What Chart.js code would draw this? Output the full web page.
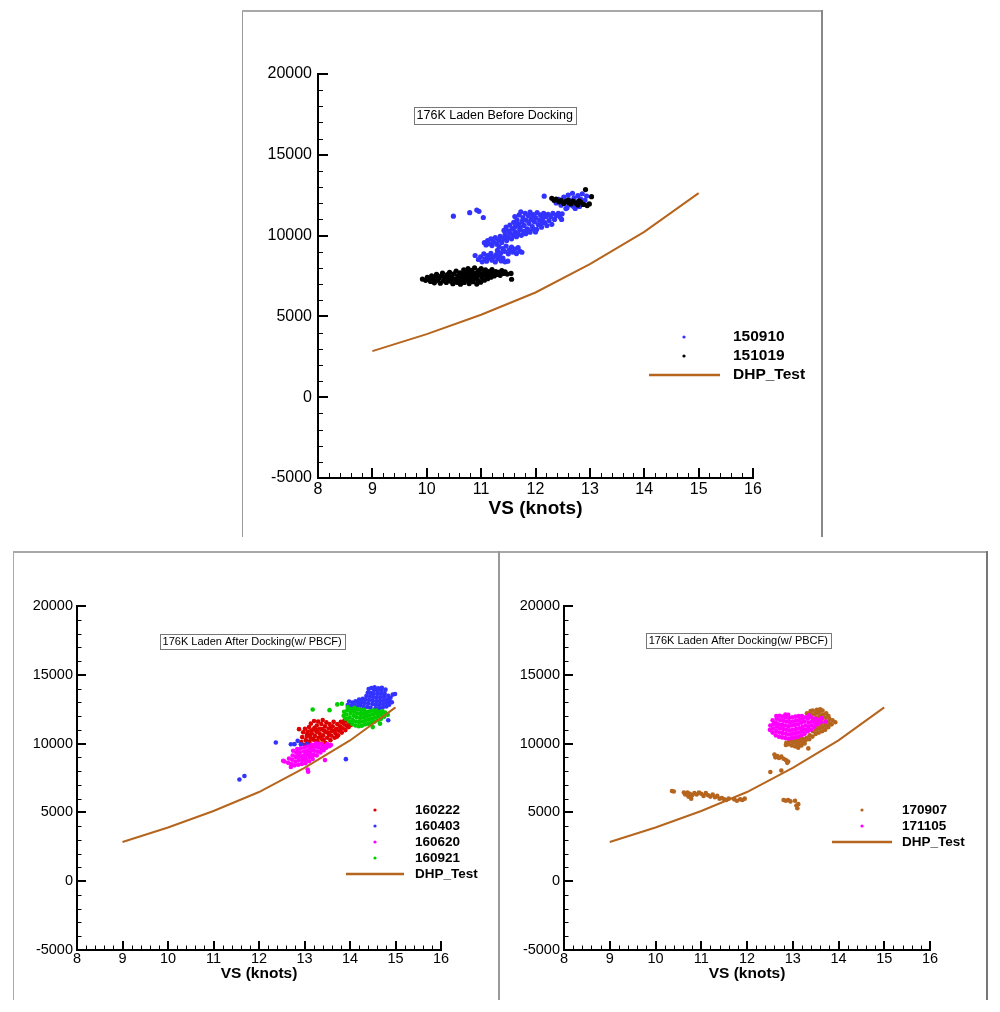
<!DOCTYPE html>
<html>
<head>
<meta charset="utf-8">
<script src="https://cdn.jsdelivr.net/npm/chart.js@4.4.0/dist/chart.umd.min.js"></script>
<style>
  body { margin: 0; background: #fff; width: 1000px; height: 1012px; position: relative; overflow: hidden; }
  .rule { position: absolute; }
  canvas { position: absolute; }
</style>
</head>
<body>
<!-- panel frames -->
<div class="rule" style="left:242px;top:10px;width:1px;height:527px;background:#999"></div>
<div class="rule" style="left:242px;top:10px;width:580px;height:2px;background:#a8a8a8"></div>
<div class="rule" style="left:821px;top:10px;width:2px;height:527px;background:#888"></div>
<div class="rule" style="left:13px;top:551px;width:975px;height:2px;background:#a8a8a8"></div>
<div class="rule" style="left:13px;top:551px;width:1px;height:449px;background:#aaa"></div>
<div class="rule" style="left:498px;top:551px;width:2px;height:449px;background:#999"></div>
<div class="rule" style="left:986px;top:551px;width:2px;height:449px;background:#777"></div>

<canvas id="before" width="578" height="524" style="left:243px;top:12px"></canvas>
<canvas id="after1" width="484" height="447" style="left:14px;top:553px"></canvas>
<canvas id="after2" width="486" height="447" style="left:500px;top:553px"></canvas>

<script>
var FONT = "Arial, 'Liberation Sans', sans-serif";

var xRange = [8, 16];
var yRange = [-5000, 20000];

// DHP sea-trial curve
var dhpSpeed = [9, 10, 11, 12, 13, 14, 15];
var dhpPower = [2850, 3900, 5100, 6480, 8230, 10230, 12630];

// measured points, [speed (knots), power]
var s150910 = [
  [10.49,11200],[10.79,11420],[10.92,11580],[10.96,11500],[11.04,11120],[10.89,8770],[12.16,12440],[12.49,11350],[12.48,11000],
  [10.95,8520],[10.99,8690],[11.02,8380],[11.05,8870],[11.07,8560],[11.1,8420],[11.12,8760],[11.15,8610],[11.18,8900],
  [11.2,8480],[11.23,8690],[11.26,8370],[11.28,8830],[11.31,8560],[11.34,8710],[11.37,8430],[11.4,8600],[11.44,8380],[11.49,8420],
  [11.3,9080],[11.33,9320],[11.36,8930],[11.4,9190],[11.43,9030],[11.46,9350],[11.5,8870],[11.52,9120],[11.56,9290],
  [11.58,8980],[11.62,9170],[11.65,8890],[11.68,9260],[11.71,9040],[11.75,8970],
  [11.06,9560],[11.09,9420],[11.12,9690],[11.15,9500],[11.18,9800],[11.2,9380],[11.23,9620],[11.26,9880],[11.29,9470],
  [11.32,9720],[11.35,9950],[11.38,9580],[11.41,9830],[11.44,10060],[11.47,9700],[11.5,9920],[11.53,10150],[11.56,9800],
  [11.59,10030],[11.62,10250],[11.65,9930],[11.68,10140],[11.71,10370],[11.74,10020],[11.78,10250],[11.82,10120],
  [11.86,10330],[11.9,10210],[11.95,10400],
  [11.42,10320],[11.46,10530],[11.5,10280],[11.53,10650],[11.57,10440],[11.6,10820],[11.63,10560],[11.66,10980],
  [11.68,10710],[11.7,11280],[11.72,10480],[11.73,11470],[11.75,10880],[11.77,11120],[11.79,10630],[11.81,11380],
  [11.83,10950],[11.85,10420],[11.87,11230],[11.88,10760],[11.9,11450],[11.92,11010],[11.94,10560],[11.96,11300],
  [11.98,10850],[12.0,11120],[12.02,10380],[12.03,11420],[12.05,10680],[12.07,10970],[12.09,11280],[12.11,10520],
  [12.13,11060],[12.15,11380],[12.17,10800],[12.19,11170],[12.21,10620],[12.23,11320],[12.25,10930],[12.28,11180],
  [12.3,10700],[12.32,11380],[12.35,11000],[12.38,11250],[12.42,11380],[12.45,11150],[11.62,11180],[11.8,10280],
  [12.0,10230],[12.12,10800],[11.7,10640],[11.95,11080],
  [12.38,12020],[12.43,12250],[12.47,11880],[12.52,12380],[12.55,12080],[12.58,11730],[12.6,12500],[12.63,12200],
  [12.66,11900],[12.68,12620],[12.71,12340],[12.73,11680],[12.76,12050],[12.78,12470],[12.81,11800],[12.83,12260],
  [12.86,12590],[12.88,11950],[12.91,12180],[12.94,12450],[12.56,11670],[12.7,11800],[12.85,12000]
];
var s151019 = [
  [9.92,7310],[9.98,7230],[10.01,7420],[10.04,7330],[10.07,7160],[10.09,7510],[10.11,7290],[10.14,7080],[10.16,7420],
  [10.18,7600],[10.2,7230],[10.23,7360],[10.25,7050],[10.27,7520],[10.29,7680],[10.31,7200],[10.33,7390],[10.36,7100],
  [10.38,7580],[10.4,7300],[10.42,7730],[10.44,7180],[10.46,7460],[10.48,7020],[10.5,7640],[10.52,7290],[10.54,7810],
  [10.55,7120],[10.57,7500],[10.59,7370],[10.61,7700],[10.62,6990],[10.64,7230],[10.66,7580],[10.68,7880],[10.69,7100],
  [10.71,7410],[10.73,7740],[10.75,7260],[10.76,7960],[10.78,7030],[10.8,7590],[10.82,7350],[10.83,7850],[10.85,7150],
  [10.87,7480],[10.88,8010],[10.9,7680],[10.92,7000],[10.93,7290],[10.95,7830],[10.97,7560],[10.99,7120],[11.0,7960],
  [11.02,7390],[11.04,7700],[11.06,7240],[11.08,7880],[11.1,7520],[11.12,7330],[11.14,7780],[11.16,7600],[11.18,7430],
  [11.2,7900],[11.22,7680],[11.24,7500],[11.27,7780],[11.29,7600],[11.32,7720],[11.35,7540],[11.38,7830],[11.41,7660],
  [11.44,7750],[11.48,7620],[11.55,7660],[11.56,7300],
  [10.12,7380],[10.35,7450],[10.47,7350],[10.58,7100],[10.65,7400],[10.7,7700],[10.74,7500],[10.79,7180],[10.84,7650],
  [10.86,7300],[10.91,7430],[10.96,7650],[11.01,7550],[11.07,7600],[11.13,7650],[10.81,7800],[10.6,7550],[10.4,7470],
  [12.3,12310],[12.34,12180],[12.38,12260],[12.43,12090],[12.47,12170],[12.52,11990],[12.56,12120],[12.61,12040],
  [12.65,11960],[12.69,12140],[12.74,12010],[12.78,11890],[12.83,12080],[12.88,11930],[12.92,12850],[12.95,11860],
  [12.99,11960],[13.03,12410],[12.6,12200],[12.8,12150]
];

var s160222 = [
  [12.88,11050],[12.93,10120],[12.95,10470],[12.97,10820],[13.0,9920],[13.01,11080],[13.03,10250],[13.05,10560],
  [13.07,10880],[13.08,9870],[13.1,11200],[13.11,10140],[13.13,10430],[13.14,11450],[13.16,10730],[13.17,9820],
  [13.19,11020],[13.2,10280],[13.21,11640],[13.23,10560],[13.24,9950],[13.26,10870],[13.27,11320],[13.29,10150],
  [13.3,11600],[13.31,10420],[13.33,10750],[13.34,11080],[13.36,9980],[13.37,11420],[13.39,10300],[13.4,11720],
  [13.41,10610],[13.43,10940],[13.45,11250],[13.46,10060],[13.48,11540],[13.5,10430],[13.52,10780],[13.53,11100],
  [13.55,11420],[13.57,10250],[13.59,10580],[13.6,10920],[13.62,11260],[13.64,11580],[13.66,10420],[13.68,10760],
  [13.7,11080],[13.72,11420],[13.74,10600],[13.76,10930],[13.78,11260],[13.8,11580],[13.82,10800],[13.84,11120],
  [13.86,11440],[13.88,11700],[13.9,10980],[13.92,11300],[13.94,11600],[13.97,11200],[13.99,11480],[14.02,11350],
  [13.12,10620],[13.18,10350],[13.25,10200],[13.28,11000],[13.35,10500],[13.42,10300],[13.47,10850],[13.54,10650],
  [13.58,11150],[13.65,10950],[13.71,10500],[13.79,11050],[13.22,11150],[13.38,11050],[13.15,10930],[13.06,10720]
];
var s160403 = [
  [11.57,7390],[11.68,7650],[12.37,10080],[12.7,9950],[12.78,9960],[12.85,10200],[12.92,9950],[13.05,9960],
  [13.91,8870],[14.84,11700],[14.99,13600],
  [13.95,12810],[13.98,13060],[14.02,12720],[14.05,12980],[14.08,12530],[14.1,12790],[14.12,13070],[14.15,12680],
  [14.18,12950],[14.2,13210],[14.23,12760],[14.26,13010],[14.28,13260],[14.3,12690],[14.32,12950],[14.34,13200],
  [14.36,13460],[14.38,12660],[14.39,13700],[14.4,12920],[14.41,13960],[14.42,13170],[14.44,13420],[14.45,12610],
  [14.46,13680],[14.47,14040],[14.49,12870],[14.5,13120],[14.51,13380],[14.52,13640],[14.53,13890],[14.54,14100],
  [14.56,12560],[14.57,12820],[14.58,13080],[14.59,13340],[14.6,13600],[14.61,13850],[14.62,14020],[14.64,12580],
  [14.65,12840],[14.66,13100],[14.67,13360],[14.68,13620],[14.69,13880],[14.7,14060],[14.72,12620],[14.73,12880],
  [14.74,13140],[14.75,13400],[14.76,13650],[14.78,13920],[14.8,12700],[14.81,12960],[14.82,13220],[14.84,13480],
  [14.86,12820],[14.87,13080],[14.89,13330],[14.92,13000],[14.94,13560]
];
var s160620 = [
  [12.53,8750],[12.56,8700],[12.64,8600],[12.66,8920],[12.7,8300],[12.71,8520],[12.73,8830],[12.74,9130],[12.75,9480],
  [12.78,8420],[12.8,8700],[12.81,9020],[12.82,9330],[12.84,9600],[12.86,8460],[12.87,8780],[12.89,9070],[12.9,9370],
  [12.92,9660],[12.94,8520],[12.95,8810],[12.97,9110],[12.99,9420],[13.0,9720],[13.02,8580],[13.03,8870],[13.05,9180],
  [13.06,9480],[13.08,9780],[13.08,7950],[13.07,8120],[13.1,8720],[13.11,9020],[13.13,9330],[13.14,9630],[13.16,9920],
  [13.18,8880],[13.2,9180],[13.22,9480],[13.23,9780],[13.25,10010],[13.27,9130],[13.29,9420],[13.3,9720],[13.32,9980],
  [13.35,9360],[13.37,9650],[13.39,9940],[13.42,9520],[13.44,9810],[13.45,8800],[13.48,9700],[13.5,9960],[13.55,9820],
  [13.58,9900],[12.88,9200],[13.04,9300],[13.17,9560],[12.96,8950],[13.12,9130]
];
var s160921 = [
  [13.18,12480],[13.55,12430],[13.72,12850],[13.82,12900],[14.66,11450],[14.5,11200],
  [13.86,12020],[13.87,12310],[13.91,11810],[13.92,12120],[13.94,12420],[13.95,12660],[13.98,11620],[13.99,11920],
  [14.01,12220],[14.02,12510],[14.05,11420],[14.06,11720],[14.08,12020],[14.09,12310],[14.1,12600],[14.12,11310],
  [14.13,11610],[14.15,11910],[14.16,12210],[14.17,12500],[14.19,11260],[14.2,11560],[14.22,11860],[14.23,12160],
  [14.24,12450],[14.26,11300],[14.27,11610],[14.29,11910],[14.3,12200],[14.31,12460],[14.33,11400],[14.34,11700],
  [14.36,12000],[14.37,12300],[14.4,11450],[14.41,11760],[14.43,12060],[14.44,12350],[14.47,11510],[14.48,11800],
  [14.5,12110],[14.51,12400],[14.54,11600],[14.55,11900],[14.57,12200],[14.58,12410],[14.61,11700],[14.62,12010],
  [14.64,12300],[14.68,11800],[14.69,12100],[14.71,12350],[14.75,11950],[14.77,12250],[14.83,12100]
];

var s170907 = [
  [10.36,6560],[10.4,6520],[10.62,6450],[10.65,6300],[10.7,6450],[10.72,6150],[10.75,6350],[10.78,6000],[10.8,6250],
  [10.85,6400],[10.9,6300],[10.95,6450],[11.0,6350],[11.05,6200],[11.1,6400],[11.15,6250],[11.2,6150],[11.25,6300],
  [11.3,6100],[11.35,6200],[11.4,6000],[11.45,6050],[11.5,5950],[11.55,5900],[11.6,6000],[11.72,5950],[11.78,5850],
  [11.85,5950],[11.9,5900],[11.95,6000],
  [12.51,7940],[12.6,9200],[12.62,9000],[12.66,9100],[12.7,8950],[12.75,9050],[12.75,8050],[12.8,8900],[12.85,8800],
  [12.88,8600],[12.9,8700],[12.8,5900],[12.85,5850],[12.9,5900],[12.95,5800],[13.05,5850],[13.08,5500],[13.1,5300],[13.12,5600],
  [12.85,9900],[12.86,10060],[12.91,9950],[12.93,10160],[12.98,9860],[13.0,10110],[13.01,10310],[13.05,9800],
  [13.07,10060],[13.08,10290],[13.12,9700],[13.13,9960],[13.15,10210],[13.14,10410],[13.19,9860],[13.21,10110],
  [13.22,10350],[13.26,10010],[13.28,10250],[13.3,10400],[13.31,12210],[13.34,9650],[13.36,10320],[13.37,10610],
  [13.38,12120],[13.39,12360],[13.43,10510],[13.44,10900],[13.45,11800],[13.46,12110],[13.44,12410],[13.5,10700],
  [13.51,11010],[13.52,11300],[13.5,11610],[13.52,11900],[13.51,12210],[13.53,12450],[13.57,10800],[13.58,11110],
  [13.59,11400],[13.57,11700],[13.59,12010],[13.58,12300],[13.6,12500],[13.64,10900],[13.65,11200],[13.66,11510],
  [13.64,11800],[13.66,12100],[13.65,12400],[13.71,11000],[13.72,11300],[13.73,11610],[13.71,11900],[13.73,12200],
  [13.78,11200],[13.79,11500],[13.8,11800],[13.78,12010],[13.85,11400],[13.87,11700],[13.93,11550]
];
var s171105 = [
  [12.5,11000],[12.51,11310],[12.56,10800],[12.57,11110],[12.58,11420],[12.56,11700],[12.63,10600],[12.64,10910],
  [12.65,11220],[12.63,11510],[12.65,11810],[12.64,12010],[12.7,10500],[12.71,10810],[12.72,11110],[12.7,11400],
  [12.72,11710],[12.71,12020],[12.77,10450],[12.78,10760],[12.79,11060],[12.77,11360],[12.79,11660],[12.78,11960],
  [12.84,10400],[12.85,10710],[12.86,11010],[12.84,11310],[12.86,11610],[12.85,11910],[12.84,12110],[12.91,10350],
  [12.92,10660],[12.93,10960],[12.91,11260],[12.93,11560],[12.92,11860],[12.9,12100],[12.98,10410],[12.99,10710],
  [13.0,11010],[12.98,11310],[13.0,11610],[12.99,11910],[13.05,10450],[13.06,10760],[13.07,11060],[13.05,11360],
  [13.07,11660],[13.06,11960],[13.12,10510],[13.13,10810],[13.14,11110],[13.12,11410],[13.14,11710],[13.13,12010],
  [13.19,10610],[13.2,10910],[13.21,11210],[13.19,11510],[13.21,11810],[13.2,12010],[13.26,10710],[13.27,11010],
  [13.28,11310],[13.26,11610],[13.28,11910],[13.33,10910],[13.34,11210],[13.35,11510],[13.33,11810],[13.35,12060],
  [13.4,11010],[13.41,11310],[13.42,11610],[13.4,11910],[13.47,11210],[13.48,11510],[13.49,11810],[13.54,11410],
  [13.56,11710],[13.61,11550],[13.63,11850],[13.72,11600]
];

var BLUE = "#3333ff", BLACK = "#000000", RED = "#dd0000", MAGENTA = "#ff00ff", GREEN = "#00cc00", BROWN = "#b5651d";

function scatterSet(label, pts, color, r) {
  return {
    label: label,
    data: pts.map(function (p) { return { x: p[0], y: p[1] }; }),
    backgroundColor: color, borderWidth: 0, pointRadius: r, pointHoverRadius: r
  };
}

function dhpSet() {
  return {
    label: "DHP_Test",
    data: dhpSpeed.map(function (x, i) { return { x: x, y: dhpPower[i] }; }),
    showLine: true, borderColor: BROWN, borderWidth: 2, pointRadius: 0, tension: 0
  };
}

// tecplot-like decorations: inward ticks, boxed caption, legend inside the frame
var panelDeco = {
  id: "panelDeco",
  afterDraw: function (chart, args, o) {
    var ctx = chart.ctx, xs = chart.scales.x, ys = chart.scales.y, a = chart.chartArea;
    ctx.save();

    var xt = xs.ticks.map(function (t) { return t.value; });
    var yt = ys.ticks.map(function (t) { return t.value; });
    ctx.strokeStyle = "#000";
    ctx.lineWidth = 1;
    ctx.beginPath();
    for (var i = 0; i < xt.length - 1; i++) {
      for (var k = 1; k < 5; k++) {
        var mx = Math.round(xs.getPixelForValue(xt[i] + (xt[i + 1] - xt[i]) * k / 5)) + 0.5;
        ctx.moveTo(mx, a.bottom); ctx.lineTo(mx, a.bottom - o.minor);
      }
    }
    for (var j = 0; j < yt.length - 1; j++) {
      for (var m = 1; m < 5; m++) {
        var my = Math.round(ys.getPixelForValue(yt[j] + (yt[j + 1] - yt[j]) * m / 5)) + 0.5;
        ctx.moveTo(a.left, my); ctx.lineTo(a.left + o.minor, my);
      }
    }
    ctx.stroke();
    ctx.lineWidth = 2;
    ctx.beginPath();
    xt.forEach(function (v) {
      var px = Math.round(xs.getPixelForValue(v));
      ctx.moveTo(px, a.bottom); ctx.lineTo(px, a.bottom - o.major);
    });
    yt.forEach(function (v) {
      var py = Math.round(ys.getPixelForValue(v));
      ctx.moveTo(a.left, py); ctx.lineTo(a.left + o.major, py);
    });
    ctx.stroke();

    // caption box
    ctx.font = o.boxSize + "px " + FONT;
    ctx.fillStyle = "#000";
    ctx.textAlign = "center";
    ctx.textBaseline = "middle";
    var bx = xs.getPixelForValue(o.boxAt[0]), by = ys.getPixelForValue(o.boxAt[1]);
    var bw = Math.round(ctx.measureText(o.boxText).width + 6), bh = Math.round(o.boxSize + 4);
    ctx.fillText(o.boxText, bx, by + 0.5);
    ctx.strokeStyle = "#777";
    ctx.lineWidth = 1;
    ctx.strokeRect(Math.round(bx - bw / 2) + 0.5, Math.round(by - bh / 2) + 0.5, bw, bh);

    // legend
    var L = o.legend;
    ctx.font = "bold " + L.size + "px " + FONT;
    ctx.textAlign = "left";
    chart.data.datasets.forEach(function (d, i) {
      var y = L.y0 + i * L.gap;
      if (d.showLine) {
        ctx.strokeStyle = d.borderColor;
        ctx.lineWidth = 2.5;
        ctx.beginPath();
        ctx.moveTo(L.lineX[0], y); ctx.lineTo(L.lineX[1], y);
        ctx.stroke();
      } else {
        ctx.fillStyle = d.backgroundColor;
        ctx.beginPath();
        ctx.arc(L.markerX, y, 1.6, 0, Math.PI * 2);
        ctx.fill();
      }
      ctx.fillStyle = "#000";
      ctx.fillText(d.label, L.textX, y);
    });
    ctx.restore();
  }
};

function makePanel(id, datasets, o) {
  // later series sit on top, the DHP line on top of everything
  datasets.forEach(function (d, i) { d.order = datasets.length - i; });
  return new Chart(document.getElementById(id), {
    type: "scatter",
    data: { datasets: datasets },
    options: {
      responsive: false,
      animation: false,
      events: [],
      layout: { padding: { top: o.padTop, right: o.padRight, left: 0, bottom: 0 } },
      plugins: { legend: { display: false }, tooltip: { enabled: false }, panelDeco: o.deco },
      scales: {
        x: {
          type: "linear", min: xRange[0], max: xRange[1],
          grid: { display: false, drawTicks: false },
          border: { display: true, color: "#000", width: 2 },
          ticks: { stepSize: 1, color: "#000", padding: o.xPad, maxRotation: 0, autoSkip: false,
                   font: { family: FONT, size: o.tickSize } },
          title: { display: true, text: "VS (knots)", color: "#000",
                   font: { family: FONT, size: o.titleSize, weight: "bold" },
                   padding: { top: 0, bottom: o.titlePad } },
          afterFit: function (s) { s.height = o.xHeight; }
        },
        y: {
          type: "linear", min: yRange[0], max: yRange[1],
          grid: { display: false, drawTicks: false },
          border: { display: true, color: "#000", width: 2 },
          ticks: { stepSize: 5000, color: "#000", padding: o.yPad, autoSkip: false,
                   font: { family: FONT, size: o.tickSize },
                   callback: function (v) { return String(v); } },
          afterFit: function (s) { s.width = o.yWidth; }
        }
      }
    },
    plugins: [panelDeco]
  });
}

makePanel("before", [
  scatterSet("150910", s150910, BLUE, 2.6),
  scatterSet("151019", s151019, BLACK, 2.6),
  dhpSet()
], {
  padTop: 62, padRight: 68, yWidth: 75, xHeight: 58, tickSize: 16, xPad: 2, yPad: 6,
  titleSize: 19, titlePad: 16,
  deco: { major: 10, minor: 5, boxText: "176K Laden Before Docking", boxSize: 12.5, boxAt: [11.25, 17450],
          legend: { markerX: 441, lineX: [406, 477], textX: 490, y0: 325, gap: 19, size: 15.5 } }
});

makePanel("after1", [
  scatterSet("160222", s160222, RED, 2.3),
  scatterSet("160403", s160403, BLUE, 2.3),
  scatterSet("160620", s160620, MAGENTA, 2.3),
  scatterSet("160921", s160921, GREEN, 2.3),
  dhpSet()
], {
  padTop: 53, padRight: 57, yWidth: 63, xHeight: 50, tickSize: 14.5, xPad: 0, yPad: 4,
  titleSize: 15.5, titlePad: 17,
  deco: { major: 9, minor: 4.5, boxText: "176K Laden After Docking(w/ PBCF)", boxSize: 11, boxAt: [11.85, 17420],
          legend: { markerX: 361, lineX: [332, 390], textX: 401, y0: 257, gap: 16, size: 13.5 } }
});

makePanel("after2", [
  scatterSet("170907", s170907, BROWN, 2.3),
  scatterSet("171105", s171105, MAGENTA, 2.3),
  dhpSet()
], {
  padTop: 53, padRight: 56, yWidth: 64, xHeight: 50, tickSize: 14.5, xPad: 0, yPad: 4,
  titleSize: 15.5, titlePad: 17,
  deco: { major: 9, minor: 4.5, boxText: "176K Laden After Docking(w/ PBCF)", boxSize: 11, boxAt: [11.81, 17460],
          legend: { markerX: 362, lineX: [332, 392], textX: 402, y0: 257, gap: 16, size: 13.5 } }
});
</script>
</body>
</html>
